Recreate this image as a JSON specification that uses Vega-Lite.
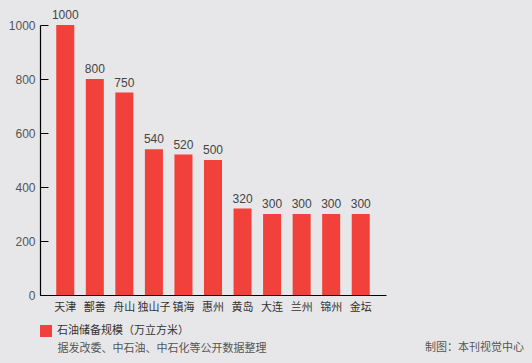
{
  "$schema": "https://vega.github.io/schema/vega-lite/v6.json",
  "width": 346,
  "height": 270,
  "autosize": {"type": "none"},
  "padding": {"left": 40, "top": 25, "right": 146, "bottom": 68},
  "background": "#e7e7e9",
  "config": {
    "view": {"stroke": null},
    "font": "Liberation Sans, Noto Sans CJK SC"
  },
  "title": {
    "text": "制图：本刊视觉中心",
    "orient": "bottom",
    "anchor": "end",
    "frame": "group",
    "dx": 138,
    "dy": -15,
    "fontSize": 11,
    "fontWeight": "normal",
    "color": "#555555",
    "font": "Noto Sans CJK SC"
  },
  "data": {
    "values": [
      {"city": "天津", "value": 1000, "series": "石油储备规模（万立方米）"},
      {"city": "鄯善", "value": 800, "series": "石油储备规模（万立方米）"},
      {"city": "舟山", "value": 750, "series": "石油储备规模（万立方米）"},
      {"city": "独山子", "value": 540, "series": "石油储备规模（万立方米）"},
      {"city": "镇海", "value": 520, "series": "石油储备规模（万立方米）"},
      {"city": "惠州", "value": 500, "series": "石油储备规模（万立方米）"},
      {"city": "黄岛", "value": 320, "series": "石油储备规模（万立方米）"},
      {"city": "大连", "value": 300, "series": "石油储备规模（万立方米）"},
      {"city": "兰州", "value": 300, "series": "石油储备规模（万立方米）"},
      {"city": "锦州", "value": 300, "series": "石油储备规模（万立方米）"},
      {"city": "金坛", "value": 300, "series": "石油储备规模（万立方米）"}
    ]
  },
  "encoding": {
    "x": {
      "field": "city",
      "type": "nominal",
      "sort": null,
      "scale": {"paddingInner": 0.39, "paddingOuter": 0.55},
      "axis": {
        "title": "据发改委、中石油、中石化等公开数据整理",
        "titleAnchor": "start",
        "titleAlign": "left",
        "titleBaseline": "middle",
        "titleX": 17,
        "titleY": 53,
        "titleFontSize": 11,
        "titleFontWeight": "normal",
        "titleColor": "#555555",
        "titleFont": "Noto Sans CJK SC",
        "labelAngle": 0,
        "labelFontSize": 11,
        "labelColor": "#333333",
        "labelFont": "Noto Sans CJK SC",
        "labelPadding": 6,
        "ticks": false,
        "domainColor": "#000000",
        "domainWidth": 1.2
      }
    },
    "y": {
      "field": "value",
      "type": "quantitative",
      "scale": {"domain": [0, 1000]},
      "axis": {
        "title": null,
        "values": [0, 200, 400, 600, 800, 1000],
        "format": "d",
        "grid": false,
        "labelFontSize": 12,
        "labelColor": "#555555",
        "labelPadding": 13,
        "tickSize": -8,
        "tickColor": "#000000",
        "domainColor": "#000000",
        "domainWidth": 1.2
      }
    }
  },
  "layer": [
    {
      "mark": {"type": "bar"},
      "encoding": {
        "color": {
          "field": "series",
          "type": "nominal",
          "scale": {"range": ["#f2403a"]},
          "legend": {
            "title": null,
            "orient": "none",
            "legendX": 0,
            "legendY": 300,
            "symbolType": "square",
            "symbolSize": 144,
            "symbolStrokeWidth": 0,
            "symbolOpacity": 1,
            "labelFontSize": 11,
            "labelColor": "#333333",
            "labelFont": "Noto Sans CJK SC",
            "labelOffset": 5,
            "padding": 0
          }
        }
      }
    },
    {
      "mark": {"type": "text", "baseline": "bottom", "dy": -3, "fontSize": 12, "color": "#444444"},
      "encoding": {"text": {"field": "value", "type": "quantitative"}}
    }
  ]
}
